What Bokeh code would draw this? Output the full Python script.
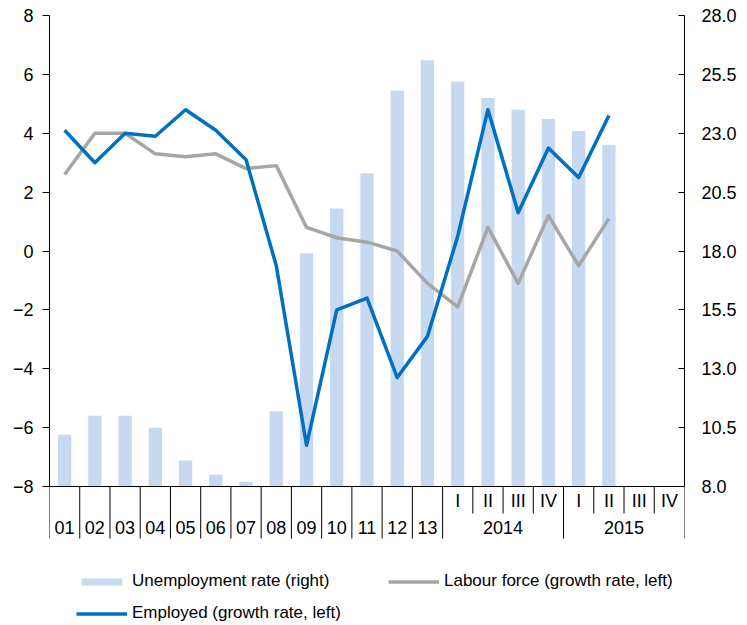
from bokeh.plotting import figure
from bokeh.models import (Range1d, LinearAxis, FixedTicker, Span, Legend, LegendItem,
                          PrintfTickFormatter)
from bokeh.embed import file_html
from bokeh.resources import INLINE
from bokeh.core.properties import value

# ---------------- data ----------------
categories = ["01", "02", "03", "04", "05", "06", "07", "08", "09", "10", "11", "12", "13",
              "2014 I", "2014 II", "2014 III", "2014 IV",
              "2015 I", "2015 II", "2015 III", "2015 IV"]
annual_labels = ["01", "02", "03", "04", "05", "06", "07", "08", "09", "10", "11", "12", "13"]
quarter_labels = ["I", "II", "III", "IV"]
years = ["2014", "2015"]

unemployment = [10.2, 11.0, 11.0, 10.5, 9.1, 8.5, 8.2, 11.2, 17.9, 19.8, 21.3, 24.8, 26.1,
                25.2, 24.5, 24.0, 23.6, 23.1, 22.5]
labour_force = [2.6, 4.0, 4.0, 3.3, 3.2, 3.3, 2.8, 2.9, 0.8, 0.45, 0.3, 0.0, -1.1,
                -1.9, 0.8, -1.1, 1.2, -0.5, 1.1]
employed = [4.1, 3.0, 4.0, 3.9, 4.8, 4.1, 3.1, -0.5, -6.6, -2.0, -1.6, -4.3, -2.9,
            0.5, 4.8, 1.3, 3.5, 2.5, 4.6]

left_ticks = [-8, -6, -4, -2, 0, 2, 4, 6, 8]
right_ticks = [8.0, 10.5, 13.0, 15.5, 18.0, 20.5, 23.0, 25.5, 28.0]

# ---------------- layout ----------------
FONT = "Liberation Sans"
W, H = 747, 625
BL, BR, BT = 49, 63, 15
FRAME_H = H - BT
AXIS_PX = 471.0
L_MIN, L_MAX = left_ticks[0], left_ticks[-1]
R_MIN, R_MAX = right_ticks[0], right_ticks[-1]
ppu = AXIS_PX / (L_MAX - L_MIN)
y_start = L_MAX - FRAME_H / ppu
r_start = R_MIN + (y_start - L_MIN) * (R_MAX - R_MIN) / (L_MAX - L_MIN)

def below(px):
    return L_MIN - px / ppu

n = len(categories)
centers = [i + 0.5 for i in range(n)]
nd = len(unemployment)

p = figure(width=W, height=H, x_range=Range1d(0, n), y_range=Range1d(y_start, L_MAX),
           output_backend="svg", toolbar_location=None,
           x_axis_location=None, y_axis_location=None,
           min_border_left=BL, min_border_right=BR, min_border_top=BT, min_border_bottom=0)
p.extra_y_ranges = {"right": Range1d(r_start, R_MAX)}
p.grid.visible = False
p.outline_line_color = None
p.background_fill_color = "white"
p.border_fill_color = "white"

# axes
la = LinearAxis(bounds=(L_MIN, L_MAX), ticker=FixedTicker(ticks=left_ticks))
la.major_tick_out = 7
la.major_tick_in = 0
la.minor_tick_line_color = None
la.major_label_standoff = 9
la.major_label_text_font = FONT
la.major_label_text_font_size = "18px"
la.major_label_text_color = "black"
la.axis_line_color = "black"
la.major_tick_line_color = "black"
p.add_layout(la, "left")

ra = LinearAxis(y_range_name="right", bounds=(R_MIN, R_MAX),
                ticker=FixedTicker(ticks=right_ticks),
                formatter=PrintfTickFormatter(format="%.1f"))
ra.major_tick_out = 0
ra.major_tick_in = 6
ra.minor_tick_line_color = None
ra.major_label_standoff = 17
ra.major_label_text_font = FONT
ra.major_label_text_font_size = "18px"
ra.major_label_text_color = "black"
ra.axis_line_color = "black"
ra.major_tick_line_color = "black"
p.add_layout(ra, "right")

# bars
bars = p.vbar(x=centers[:nd], top=unemployment, bottom=R_MIN, width=0.44,
              y_range_name="right", fill_color="#C6D9F1", line_color=None)
# lines
lf = p.line(centers[:nd], labour_force, line_color="#A6A6A6", line_width=3.5, line_join="round")
em = p.line(centers[:nd], employed, line_color="#0070C0", line_width=3.5, line_join="round")

# category axis (drawn under the frame's -8 line)
p.add_layout(Span(location=L_MIN, dimension="width", line_color="black", line_width=1))
na = len(annual_labels)
nq = len(quarter_labels)
full_seps = list(range(0, na + 1)) + [na + nq * (k + 1) for k in range(len(years))]
short_seps = [b for b in range(na, n + 1) if b not in full_seps]
p.segment(x0=full_seps, y0=[L_MIN] * len(full_seps), x1=full_seps,
          y1=[below(52)] * len(full_seps), line_color="black", line_width=1)
p.segment(x0=short_seps, y0=[L_MIN] * len(short_seps), x1=short_seps,
          y1=[below(27)] * len(short_seps), line_color="black", line_width=1)

q_text = quarter_labels * len(years)
p.text(x=centers[na:], y=[below(14)] * len(q_text), text=q_text,
       text_align="center", text_baseline="middle",
       text_font=value(FONT), text_font_size="18px", text_color="black")
year_x = [na + nq * k + nq / 2 for k in range(len(years))]
low_text = annual_labels + years
low_x = centers[:na] + year_x
p.text(x=low_x, y=[below(41)] * len(low_text), text=low_text,
       text_align="center", text_baseline="middle",
       text_font=value(FONT), text_font_size="18px", text_color="black")

# legends
def mk_legend(items, loc):
    lg = Legend(items=items, location=loc, orientation="horizontal")
    lg.border_line_color = None
    lg.background_fill_alpha = 0
    lg.padding = 0
    lg.margin = 0
    lg.spacing = 0
    lg.label_standoff = 5
    lg.glyph_width = 51
    lg.glyph_height = 9
    lg.label_height = 20
    lg.label_width = 256
    lg.label_text_font = FONT
    lg.label_text_font_size = "17px"
    lg.label_text_color = "black"
    return lg

lg1 = mk_legend([LegendItem(label="Unemployment rate (right)", renderers=[bars]),
                 LegendItem(label="Labour force (growth rate, left)", renderers=[lf])], (27, 34))
lg2 = mk_legend([LegendItem(label="Employed (growth rate, left)", renderers=[em])], (27, 2))
p.add_layout(lg1)
p.add_layout(lg2)

open("out.html", "w").write(file_html(p, INLINE))
